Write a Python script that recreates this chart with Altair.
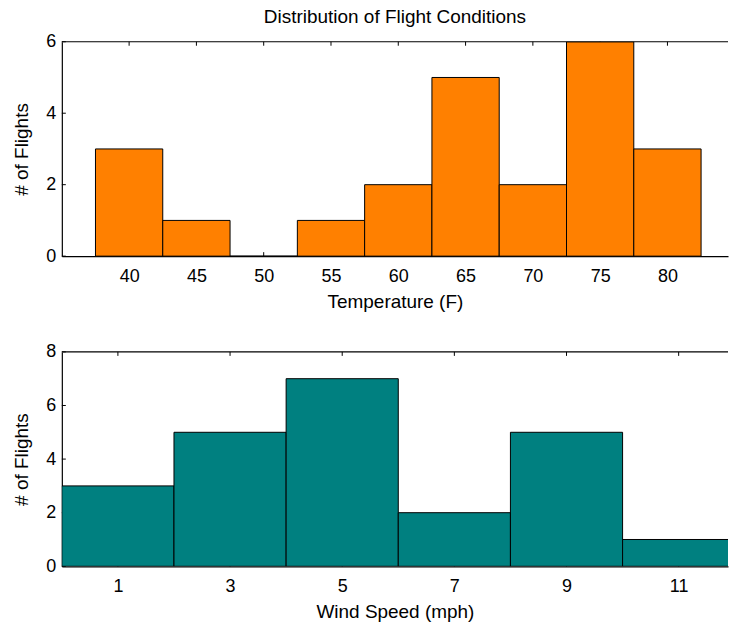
import altair as alt
import pandas as pd

# ---- data ----
temp_centers = [40, 45, 50, 55, 60, 65, 70, 75, 80]
temp_counts = [3, 1, 0, 1, 2, 5, 2, 6, 3]
temp_bin_width = 5
temp_ticks = [40, 45, 50, 55, 60, 65, 70, 75, 80]
temp_domain = [35, 84.5]
temp_y_ticks = [0, 2, 4, 6]

wind_centers = [1, 3, 5, 7, 9, 11]
wind_counts = [3, 5, 7, 2, 5, 1]
wind_bin_width = 2
wind_ticks = [1, 3, 5, 7, 9, 11]
wind_domain = [0, 11.88]
wind_y_ticks = [0, 2, 4, 6, 8]

FONT = "Liberation Sans"
W, H = 668, 215
TICK_LEN = 4


def panel(centers, counts, bw, xticks, xdomain, yticks, color, xtitle, title=None):
    bars = pd.DataFrame({
        "lo": [c - bw / 2 for c in centers],
        "hi": [c + bw / 2 for c in centers],
        "count": counts,
    })
    xt = pd.DataFrame({"t": xticks})
    yt = pd.DataFrame({"v": yticks})
    xscale = alt.Scale(domain=xdomain, nice=False, zero=False)
    yscale = alt.Scale(domain=[yticks[0], yticks[-1]], nice=False)

    bottom_axis = alt.Axis(values=xticks, ticks=False, grid=False, labelPadding=11,
                           titlePadding=7, domainColor="black", domainWidth=1.2,
                           labelColor="black", titleColor="black", labelFontSize=18,
                           titleFontSize=19, titleFontWeight="normal", labelFlush=False,
                           format="d")
    left_axis = alt.Axis(values=yticks, ticks=False, grid=False, labelPadding=6,
                         titlePadding=14, domainColor="black", domainWidth=1.2,
                         labelColor="black", titleColor="black", labelFontSize=18,
                         titleFontSize=19, titleFontWeight="normal", format="d")

    # top frame line (box on)
    frame = alt.Chart(pd.DataFrame({"k": [0]})).mark_rule(
        color="black", strokeWidth=1.2).encode(
        x=alt.value(0), x2=alt.value(W), y=alt.value(0))
    # inward tick marks (drawn below bars)
    top_ticks = alt.Chart(xt).mark_rule(color="black", strokeWidth=1).encode(
        x=alt.X("t:Q", scale=xscale, axis=bottom_axis, title=xtitle),
        y=alt.value(0), y2=alt.value(TICK_LEN))
    bot_ticks = alt.Chart(xt).mark_rule(color="black", strokeWidth=1).encode(
        x=alt.X("t:Q", scale=xscale),
        y=alt.value(H), y2=alt.value(H - TICK_LEN))
    left_ticks = alt.Chart(yt).mark_rule(color="black", strokeWidth=1).encode(
        y=alt.Y("v:Q", scale=yscale, axis=left_axis, title="# of Flights"),
        x=alt.value(0), x2=alt.value(TICK_LEN))

    rects = alt.Chart(bars).mark_rect(color=color, stroke="black", strokeWidth=1,
                                      clip=True).encode(
        x=alt.X("lo:Q", scale=xscale),
        x2="hi:Q",
        y=alt.Y("count:Q", scale=yscale),
        y2=alt.datum(0),
    )

    layer = alt.layer(top_ticks, bot_ticks, left_ticks, rects, frame).properties(
        width=W, height=H)
    if title:
        layer = layer.properties(title=alt.TitleParams(
            title, fontSize=19, fontWeight="normal", font=FONT, color="black",
            anchor="middle", offset=6))
    return layer


top = panel(temp_centers, temp_counts, temp_bin_width, temp_ticks, temp_domain,
            temp_y_ticks, "#FF8000", "Temperature (F)",
            title="Distribution of Flight Conditions")
bottom = panel(wind_centers, wind_counts, wind_bin_width, wind_ticks, wind_domain,
               wind_y_ticks, "#008080", "Wind Speed (mph)")

chart = alt.vconcat(top, bottom, spacing=32).properties(
    padding={"left": 12, "top": 7, "right": 0, "bottom": 0},
    background="white",
).configure(font=FONT).configure_view(stroke=None)

chart.save("out.html", embed_options={"renderer": "svg", "actions": False})
